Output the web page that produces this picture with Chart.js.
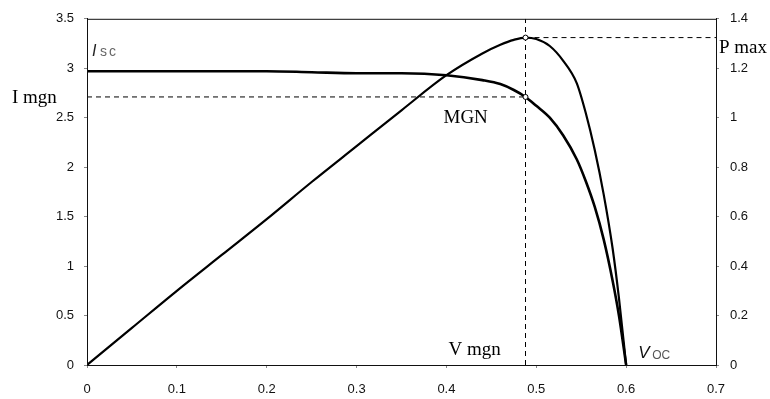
<!DOCTYPE html>
<html>
<head>
<meta charset="utf-8">
<script src="https://cdn.jsdelivr.net/npm/chart.js@4/dist/chart.umd.min.js"></script>
<style>
  html, body { margin: 0; padding: 0; background: #fff; }
  #wrap { width: 770px; height: 399px; }
</style>
</head>
<body>
<div id="wrap"><canvas id="pvChart" width="770" height="399"></canvas></div>
<script>
// values
var voltage = [0, 0.05, 0.1, 0.15, 0.2, 0.25, 0.3, 0.35, 0.4, 0.44, 0.46, 0.475, 0.488, 0.5, 0.515, 0.53, 0.545, 0.555, 0.565, 0.575, 0.585, 0.592, 0.6];
var current = [2.97, 2.97, 2.97, 2.97, 2.97, 2.96, 2.95, 2.95, 2.93, 2.88, 2.84, 2.78, 2.71, 2.62, 2.50, 2.32, 2.08, 1.86, 1.60, 1.27, 0.85, 0.50, 0];
var power = [0, 0.15, 0.30, 0.445, 0.59, 0.74, 0.885, 1.03, 1.172, 1.26, 1.295, 1.315, 1.324, 1.318, 1.29, 1.23, 1.14, 1.02, 0.87, 0.69, 0.47, 0.27, 0];

var vMgn = 0.488;
var iMgn = 2.71;
var pMax = 1.324;
var vOc = 0.6;

var xTicks = [0, 0.1, 0.2, 0.3, 0.4, 0.5, 0.6, 0.7];
var yLeftMax = 3.5;
var yRightMax = 1.4;

function pts(xs, ys) {
  var out = [];
  for (var i = 0; i < xs.length; i++) out.push({x: xs[i], y: ys[i]});
  return out;
}

function fmt(v) {
  return String(parseFloat(Number(v).toFixed(2)));
}

var tickFont = {family: "'Liberation Sans', Arial, sans-serif", size: 13};
var serif = "19px 'Liberation Serif', 'Times New Roman', serif";

// text labels + plot frame
var labelsPlugin = {
  id: 'labels',
  afterDraw: function(chart) {
    var ctx = chart.ctx;
    var a = chart.chartArea;
    var xs = chart.scales.x, yl = chart.scales.y, yr = chart.scales.y2;
    ctx.save();
    ctx.strokeStyle = '#111';
    ctx.lineWidth = 1;
    ctx.strokeRect(a.left + 0.5, a.top + 0.5, a.right - a.left, a.bottom - a.top);

    ctx.fillStyle = '#000';
    ctx.font = serif;
    ctx.textBaseline = 'middle';
    ctx.textAlign = 'left';
    ctx.fillText('I mgn', 12, yl.getPixelForValue(iMgn) + 1);
    ctx.fillText('P max', a.right + 3, yr.getPixelForValue(pMax) + 10);
    ctx.fillText('MGN', xs.getPixelForValue(vMgn) - 82, yl.getPixelForValue(iMgn) + 21);
    ctx.textBaseline = 'alphabetic';
    ctx.fillText('V mgn', xs.getPixelForValue(vMgn) - 77, a.bottom - 10);

    // Isc
    ctx.fillStyle = '#222';
    ctx.font = "italic 16px 'Liberation Sans', Arial, sans-serif";
    ctx.fillText('I', a.left + 5, 56);
    ctx.fillStyle = '#666';
    ctx.font = "14px 'Liberation Sans', Arial, sans-serif";
    ctx.letterSpacing = '2px';
    ctx.fillText('sc', a.left + 13, 56);
    ctx.letterSpacing = '0px';

    // Voc
    var vx = xs.getPixelForValue(vOc);
    ctx.fillStyle = '#111';
    ctx.font = "italic 17px 'Liberation Sans', Arial, sans-serif";
    ctx.fillText('V', vx + 12, a.bottom - 7);
    ctx.fillStyle = '#555';
    ctx.font = "12px 'Liberation Sans', Arial, sans-serif";
    ctx.fillText('OC', vx + 26, a.bottom - 6);
    ctx.restore();
  }
};

var ctx = document.getElementById('pvChart');
var chart = new Chart(ctx, {
  type: 'line',
  data: {
    datasets: [
      {
        label: 'MGN',
        data: [{x: vMgn, y: iMgn}],
        yAxisID: 'y',
        showLine: false,
        pointRadius: 2.5,
        pointBackgroundColor: '#fff',
        pointBorderColor: '#000',
        pointBorderWidth: 1
      },
      {
        label: 'Pmax',
        data: [{x: vMgn, y: pMax}],
        yAxisID: 'y2',
        showLine: false,
        pointRadius: 2.5,
        pointBackgroundColor: '#fff',
        pointBorderColor: '#000',
        pointBorderWidth: 1
      },
      {
        label: 'I',
        data: pts(voltage, current),
        yAxisID: 'y',
        borderColor: '#000',
        borderWidth: 2.6,
        pointRadius: 0,
        cubicInterpolationMode: 'monotone'
      },
      {
        label: 'P',
        data: pts(voltage, power),
        yAxisID: 'y2',
        borderColor: '#000',
        borderWidth: 2.2,
        pointRadius: 0,
        cubicInterpolationMode: 'monotone'
      },
      {
        label: 'I mgn line',
        data: [{x: 0, y: iMgn}, {x: vMgn, y: iMgn}],
        yAxisID: 'y',
        borderColor: '#000',
        borderWidth: 1,
        borderDash: [5, 4],
        pointRadius: 0
      },
      {
        label: 'V mgn line',
        data: [{x: vMgn, y: 0}, {x: vMgn, y: yLeftMax}],
        yAxisID: 'y',
        borderColor: '#000',
        borderWidth: 1,
        borderDash: [5, 4],
        pointRadius: 0
      },
      {
        label: 'P max line',
        data: [{x: vMgn, y: pMax}, {x: 0.7, y: pMax}],
        yAxisID: 'y2',
        borderColor: '#000',
        borderWidth: 1,
        borderDash: [5, 4],
        pointRadius: 0
      }
    ]
  },
  options: {
    responsive: false,
    animation: false,
    layout: {padding: {top: 15, left: 0, right: 0, bottom: 0}},
    plugins: {legend: {display: false}, tooltip: {enabled: false}},
    scales: {
      x: {
        type: 'linear',
        min: 0,
        max: 0.7,
        afterBuildTicks: function(axis) {
          axis.ticks = xTicks.map(function(v) { return {value: v}; });
        },
        afterFit: function(axis) { axis.height = 34; },
        grid: {display: true, drawOnChartArea: false, tickLength: 3, color: '#888'},
        border: {display: true, color: '#555', width: 1},
        ticks: {color: '#111', font: tickFont, padding: 14, maxRotation: 0, callback: fmt}
      },
      y: {
        position: 'left',
        min: 0,
        max: yLeftMax,
        afterFit: function(axis) { axis.width = 87; },
        grid: {display: true, drawOnChartArea: false, tickLength: 3, color: '#888'},
        border: {display: true, color: '#111', width: 1},
        ticks: {stepSize: 0.5, color: '#111', font: tickFont, padding: 10, callback: fmt}
      },
      y2: {
        position: 'right',
        min: 0,
        max: yRightMax,
        afterFit: function(axis) { axis.width = 54; },
        grid: {display: true, drawOnChartArea: false, tickLength: 3, color: '#888'},
        border: {display: true, color: '#111', width: 1},
        ticks: {stepSize: 0.2, color: '#111', font: tickFont, padding: 11, callback: fmt}
      }
    }
  },
  plugins: [labelsPlugin]
});
</script>
</body>
</html>
